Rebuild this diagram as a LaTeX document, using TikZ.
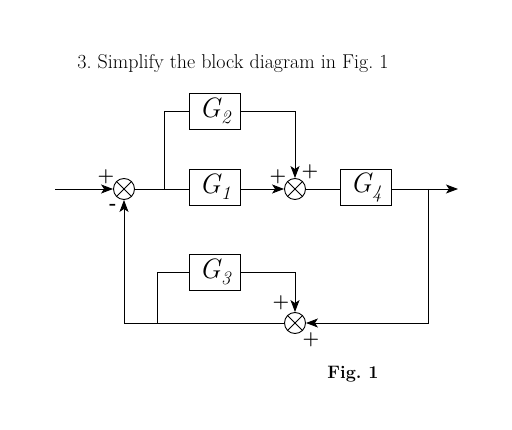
\documentclass[tikz,border=0pt]{standalone}
\usepackage{fontspec}
\usetikzlibrary{arrows.meta}
\newcommand{\gsym}[1]{\itshape G\kern0.5pt\raisebox{-6pt}{\fontsize{19}{22}\selectfont\itshape #1}}
\begin{document}
\begin{tikzpicture}[x=1pt,y=-1pt,
  line width=0.9pt,
  blk/.style={draw, minimum width=51pt, minimum height=36pt, inner sep=0pt, font=\fontsize{28}{30}\selectfont},
  sumj/.style={draw, circle, minimum size=21pt, inner sep=0pt},
  arr/.style={-{Stealth[length=12pt,width=9pt,inset=3pt]}},
  sgn/.style={font=\fontsize{19}{20}\selectfont, inner sep=0pt}]
\useasboundingbox (0,0) rectangle (512,430);
\node[anchor=west, font=\fontsize{20}{24}\selectfont, inner sep=0pt] (title) at (77,64) {3.\ Simplify the block diagram in Fig.\ 1};
\node[sumj] (s1) at (124,189) {};
\node[sumj] (s2) at (295,189) {};
\node[sumj] (s3) at (295,323) {};
\foreach \s in {s1,s2,s3}{
  \draw (\s.45) -- (\s.225);
  \draw (\s.135) -- (\s.315);
}
\node[blk] (G2) at (215,111) {\gsym{2}};
\node[blk] (G1) at (215,187) {\gsym{1}};
\node[blk] (G4) at (366,187) {\gsym{4}};
\node[blk] (G3) at (215,272) {\gsym{3}};
\coordinate (in) at (55,189);
\coordinate (out) at (458,189);
\coordinate (b1) at (164,189);
\coordinate (b2) at (428,189);
\coordinate (b3) at (157,323);
\draw[arr] (in) -- (s1);
\draw (s1) -- (G1.west |- s1);
\draw (b1) |- (G2.west);
\draw[arr] (G1.east |- s2) -- (s2);
\draw[arr] (G2.east) -| (s2);
\draw (s2) -- (G4.west |- s2);
\draw[arr] (G4.east |- s2) -- (out);
\draw[arr] (b2) |- (s3);
\draw[arr] (s3) -| (s1);
\draw (b3) |- (G3.west);
\draw[arr] (G3.east) -| (s3);
\node[sgn] (p1) at (106,177) {\textbf{+}};
\node[sgn] (m1) at (113,207) {\textbf{-}};
\node[sgn] (p2) at (278,177) {\textbf{+}};
\node[sgn] (p3) at (310,172) {\textbf{+}};
\node[sgn] (p4) at (281,303) {\textbf{+}};
\node[sgn] (p5) at (311,340) {\textbf{+}};
\node[font=\bfseries\fontsize{18}{21}\selectfont, inner sep=0pt] (fig) at (353,374) {Fig.\ 1};
\end{tikzpicture}
\end{document}
